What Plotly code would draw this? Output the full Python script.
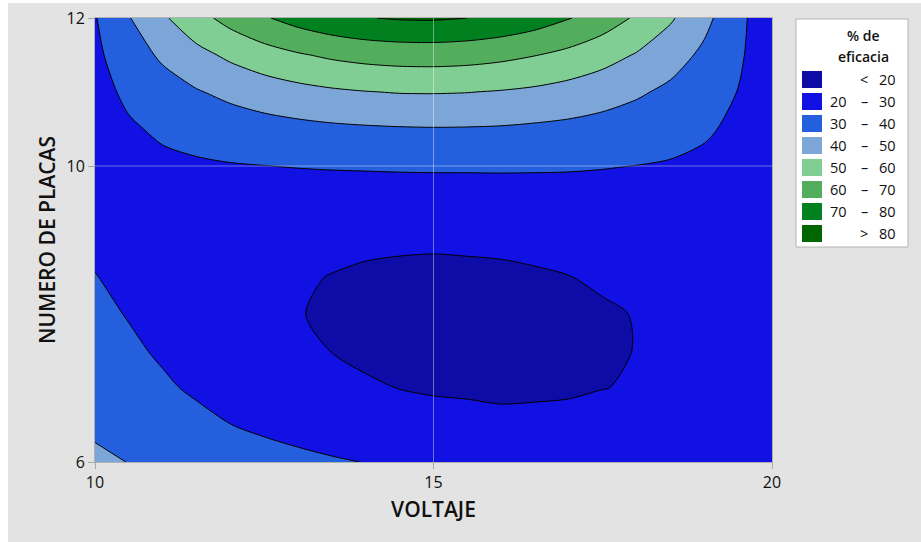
import plotly.graph_objects as go

# ---- data ----
voltaje = [10, 10.5, 11, 11.5, 12, 12.5, 13, 13.5, 14, 14.5, 15, 15.5, 16, 16.5, 17, 17.5, 18, 18.5, 19, 19.5, 20]
placas = [6, 6.5, 7, 7.5, 8, 8.5, 9, 9.5, 10, 10.5, 11, 11.5, 12]

# % de eficacia, one row per NUMERO DE PLACAS value (6 ... 12)
eficacia_y6    = [42.0, 39.8, 38.7, 36.9, 35.2, 33.6, 32.2, 30.9, 29.8, 29.0, 28.4, 28.0, 27.8, 27.7, 27.7, 27.8, 27.8, 27.6, 27.2, 26.3, 25.0]
eficacia_y6_5  = [38.2, 36.2, 34.1, 32.1, 30.1, 28.3, 26.7, 25.3, 24.1, 23.3, 22.6, 22.3, 21.3, 21.3, 21.2, 22.5, 22.7, 22.9, 22.8, 22.4, 21.6]
eficacia_y7    = [35.6, 33.3, 31.1, 28.9, 26.8, 24.9, 23.3, 21.9, 20.7, 19.9, 19.3, 19.0, 19.0, 19.2, 19.5, 19.9, 20.4, 20.8, 21.1, 21.2, 20.9]
eficacia_y7_5  = [33.6, 31.3, 29.0, 26.8, 24.7, 22.9, 21.3, 19.9, 18.9, 18.2, 17.7, 17.6, 17.6, 18.0, 18.5, 19.1, 20.15, 20.6, 21.1, 21.5, 21.6]
eficacia_y8    = [31.8, 29.6, 27.4, 25.4, 23.5, 21.9, 20.2, 19.3, 18.4, 17.8, 17.5, 17.5, 17.6, 18.1, 18.7, 19.4, 20.2, 21.1, 21.9, 22.5, 22.9]
eficacia_y8_5  = [30.2, 28.3, 26.5, 24.8, 23.2, 21.9, 20.7, 19.8, 19.1, 18.7, 18.5, 18.6, 18.8, 19.3, 19.9, 20.7, 21.5, 22.3, 23.1, 23.7, 24.2]
eficacia_y9    = [28.6, 27.4, 26.1, 25.0, 23.9, 23.0, 22.3, 21.7, 21.2, 21.0, 20.9, 21.1, 21.3, 21.7, 22.2, 22.8, 23.4, 24.0, 24.6, 24.9, 25.1]
eficacia_y9_5  = [27.4, 27.0, 26.7, 26.3, 25.9, 25.6, 25.3, 25.1, 25.0, 25.0, 25.0, 25.1, 25.3, 25.5, 25.8, 26.0, 26.2, 26.3, 26.3, 26.1, 25.6]
eficacia_y10   = [26.6, 27.5, 28.3, 28.9, 29.5, 29.9, 30.3, 30.6, 30.8, 31.0, 31.1, 31.1, 31.1, 31.0, 30.8, 30.4, 29.9, 29.3, 28.4, 27.2, 25.7]
eficacia_y10_5 = [26.5, 29.0, 31.3, 33.2, 34.9, 36.3, 37.4, 38.3, 38.9, 39.3, 39.5, 39.4, 39.1, 38.4, 37.6, 36.4, 34.9, 33.1, 31.0, 28.4, 25.4]
eficacia_y11   = [27.1, 31.6, 35.7, 39.3, 42.3, 44.9, 47.0, 48.6, 49.7, 50.4, 50.5, 50.2, 49.4, 48.2, 46.4, 44.1, 41.3, 38.0, 34.2, 29.8, 24.8]
eficacia_y11_5 = [28.1, 35.2, 41.6, 47.1, 51.9, 55.9, 59.1, 61.6, 63.3, 64.2, 64.4, 63.8, 62.4, 60.3, 57.4, 53.7, 49.3, 44.1, 38.1, 31.4, 23.8]
eficacia_y12   = [29.4, 39.5, 48.6, 56.6, 63.4, 69.1, 73.7, 77.2, 79.6, 80.8, 81.0, 80.0, 77.9, 74.7, 70.5, 65.1, 58.7, 51.2, 42.6, 32.9, 22.2]

niveles = [20, 30, 40, 50, 60, 70, 80]
colores = ["#0e0ca6", "#1111e4", "#245fde", "#7da6d8", "#80ce94", "#52ae5c", "#00801f", "#006600"]
x_ticks = [10, 15, 20]
y_ticks = [6, 10, 12]

z = [eficacia_y6, eficacia_y6_5, eficacia_y7, eficacia_y7_5, eficacia_y8, eficacia_y8_5,
     eficacia_y9, eficacia_y9_5, eficacia_y10, eficacia_y10_5, eficacia_y11, eficacia_y11_5, eficacia_y12]

n = len(colores)
colorscale = [[i / (n - 1), c] for i, c in enumerate(colores)]
step = niveles[1] - niveles[0]

fig = go.Figure(go.Contour(
    x=voltaje, y=placas, z=z,
    contours=dict(start=niveles[0], end=niveles[-1], size=step, coloring="fill"),
    colorscale=colorscale, showscale=False,
    line=dict(color="black", width=1, smoothing=0.8),
    hoverinfo="skip",
))

# ---- geometry (page pixels) ----
W, H = 921, 542
PLOT_L, PLOT_R, PLOT_T, PLOT_B = 95, 772, 18, 462
L, T, R, B = PLOT_L, PLOT_T, W - PLOT_R, H - PLOT_B
PW, PH = PLOT_R - PLOT_L, PLOT_B - PLOT_T

def px(xp):
    return (xp - PLOT_L) / PW

def py(yp):
    return (PLOT_B - yp) / PH

FONT = "Open Sans"
shapes = []
annotations = []

# white page edge (left and top) around the grey panel
shapes.append(dict(type="rect", xref="paper", yref="paper", x0=px(0), x1=px(8), y0=py(H), y1=py(0),
                   fillcolor="white", line_width=0, layer="below"))
shapes.append(dict(type="rect", xref="paper", yref="paper", x0=px(0), x1=px(W), y0=py(3), y1=py(0),
                   fillcolor="white", line_width=0, layer="below"))

# grid lines drawn over the contour
for tv in x_ticks[1:-1]:
    shapes.append(dict(type="line", xref="x", yref="paper", x0=tv, x1=tv, y0=0, y1=1,
                       line=dict(color="rgba(255,255,255,0.4)", width=1), layer="above"))
for tv in y_ticks[1:-1]:
    shapes.append(dict(type="line", xref="paper", yref="y", x0=0, x1=1, y0=tv, y1=tv,
                       line=dict(color="rgba(255,255,255,0.4)", width=1), layer="above"))

# legend box
shapes.append(dict(type="rect", xref="paper", yref="paper", x0=px(796), x1=px(908), y0=py(247), y1=py(19),
                   fillcolor="white", line=dict(color="#b4b4b4", width=1), layer="above"))
tf = dict(family=FONT, size=14, color="#111", weight=600)
annotations.append(dict(xref="paper", yref="paper", x=px(863), y=py(35), text="% de", showarrow=False,
                        xanchor="center", yanchor="middle", font=tf))
annotations.append(dict(xref="paper", yref="paper", x=px(863), y=py(57), text="eficacia", showarrow=False,
                        xanchor="center", yanchor="middle", font=tf))

labels = [("", "<", str(niveles[0]))]
for a, b in zip(niveles[:-1], niveles[1:]):
    labels.append((str(a), "\u2013", str(b)))
labels.append(("", ">", str(niveles[-1])))

lf = dict(family=FONT, size=14.5, color="#111")
for i, (c, (lo, mid, hi)) in enumerate(zip(colores, labels)):
    top = 71 + i * 22
    shapes.append(dict(type="rect", xref="paper", yref="paper", x0=px(802), x1=px(822), y0=py(top + 17), y1=py(top),
                       fillcolor=c, line_width=0, layer="above"))
    yc = py(top + 8.5)
    if lo:
        annotations.append(dict(xref="paper", yref="paper", x=px(849), y=yc, text=lo, showarrow=False,
                                xanchor="right", yanchor="middle", font=lf))
    annotations.append(dict(xref="paper", yref="paper", x=px(864), y=yc, text=mid, showarrow=False,
                            xanchor="center", yanchor="middle", font=lf))
    annotations.append(dict(xref="paper", yref="paper", x=px(898), y=yc, text=hi, showarrow=False,
                            xanchor="right", yanchor="middle", font=lf))

axis_common = dict(showgrid=False, zeroline=False, ticks="outside", ticklen=6, tickcolor="#a8a8a8",
                   showline=True, linecolor="#b0b0b0", linewidth=1, mirror=True, automargin=False,
                   ticklabeloverflow="allow",
                   tickfont=dict(family=FONT, size=16, color="#111"))

fig.update_layout(
    template="none",
    width=W, height=H,
    margin=dict(l=L, r=R, t=T, b=B, pad=0),
    paper_bgcolor="#e3e3e3", plot_bgcolor="#e3e3e3",
    showlegend=False,
    hovermode=False,
    xaxis=dict(range=[x_ticks[0], x_ticks[-1]], tickvals=x_ticks,
               title=dict(text="VOLTAJE", standoff=10, font=dict(family=FONT, size=21, color="#111", weight=600)),
               **axis_common),
    yaxis=dict(range=[y_ticks[0], y_ticks[-1]], tickvals=y_ticks,
               title=dict(text="NUMERO DE PLACAS", standoff=5, font=dict(family=FONT, size=21, color="#111", weight=600)),
               **axis_common),
    shapes=shapes, annotations=annotations,
)

# the page body gets no default margin so the figure fills the window exactly
fig.write_html("out.html", config={"displayModeBar": False},
               post_script="document.body.style.margin='0px';")
